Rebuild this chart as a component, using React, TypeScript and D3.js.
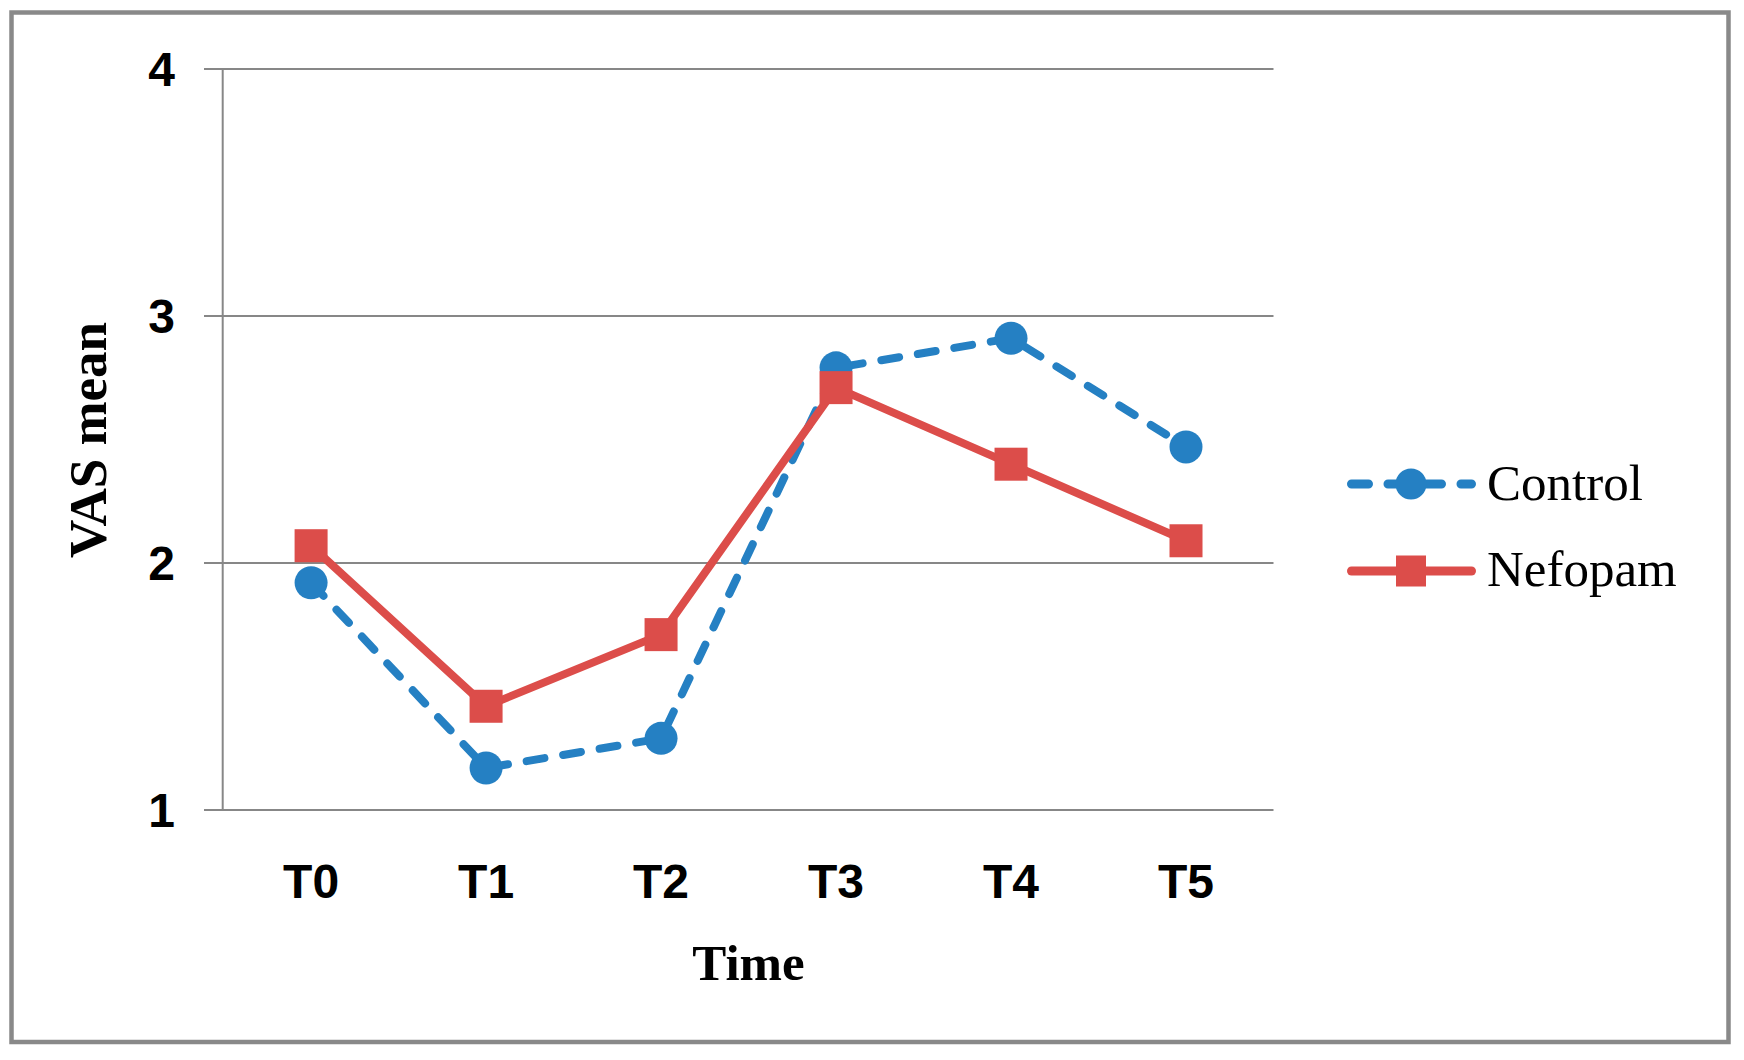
import React from "react";
import * as d3 from "d3";

const categories = ["T0", "T1", "T2", "T3", "T4", "T5"];
const controlValues = [1.92, 1.17, 1.29, 2.79, 2.91, 2.47];
const nefopamValues = [2.07, 1.42, 1.71, 2.71, 2.4, 2.09];
const yTicks = [1, 2, 3, 4];
const seriesNames = ["Control", "Nefopam"];

const W = 1744;
const H = 1060;
const BLUE = "#2580c3";
const RED = "#dc4d4a";
const GRID = "#878787";

export default function App() {
  const x = d3.scaleBand<string>().domain(categories).range([223.6, 1273.5]).padding(0);
  const y = d3.scaleLinear().domain([1, 4]).range([810, 69]);
  const cx = (c: string) => (x(c) as number) + x.bandwidth() / 2;

  const line = d3
    .line<number>()
    .x((_, i) => cx(categories[i]))
    .y((d) => y(d));

  const sq = 33;
  const r = 16.5;

  return (
    <svg
      width={W}
      height={H}
      style={{ position: "absolute", left: 0, top: 0, background: "#fff" }}
    >
      <rect x={0} y={0} width={W} height={H} fill="#fff" />
      <rect x={11.5} y={12.5} width={1717} height={1029.5} fill="none" stroke="#898989" strokeWidth={4.5} />

      {yTicks.map((t) => (
        <line key={t} x1={204} x2={1273.5} y1={y(t)} y2={y(t)} stroke={GRID} strokeWidth={2} />
      ))}
      <line x1={222.7} x2={222.7} y1={y(4)} y2={y(1)} stroke={GRID} strokeWidth={2} />

      {yTicks.map((t) => (
        <text
          key={"yl" + t}
          x={175}
          y={y(t)}
          dy="0.35em"
          textAnchor="end"
          fontFamily="'Liberation Sans', Arial, sans-serif"
          fontWeight="bold"
          fontSize={48}
          fill="#000"
        >
          {t}
        </text>
      ))}

      {categories.map((c) => (
        <text
          key={"xl" + c}
          x={cx(c)}
          y={898}
          textAnchor="middle"
          fontFamily="'Liberation Sans', Arial, sans-serif"
          fontWeight="bold"
          fontSize={48}
          fill="#000"
        >
          {c}
        </text>
      ))}

      <text
        x={748.5}
        y={980}
        textAnchor="middle"
        fontFamily="'Liberation Serif', 'Times New Roman', serif"
        fontWeight="bold"
        fontSize={51}
        fill="#000"
      >
        Time
      </text>
      <text
        transform={`translate(106, 440) rotate(-90)`}
        textAnchor="middle"
        fontFamily="'Liberation Serif', 'Times New Roman', serif"
        fontWeight="bold"
        fontSize={53}
        fill="#000"
      >
        VAS mean
      </text>

      <path
        d={line(controlValues) || ""}
        fill="none"
        stroke={BLUE}
        strokeWidth={8}
        strokeDasharray="18 19"
        strokeLinecap="round"
        strokeLinejoin="round"
      />
      {controlValues.map((v, i) => (
        <circle key={"c" + i} cx={cx(categories[i])} cy={y(v)} r={r} fill={BLUE} />
      ))}

      <path d={line(nefopamValues) || ""} fill="none" stroke={RED} strokeWidth={8} strokeLinejoin="round" />
      {nefopamValues.map((v, i) => (
        <rect
          key={"n" + i}
          x={cx(categories[i]) - sq / 2}
          y={y(v) - sq / 2}
          width={sq}
          height={sq}
          fill={RED}
        />
      ))}

      <g>
        <line
          x1={1351.5}
          x2={1471.5}
          y1={484}
          y2={484}
          stroke={BLUE}
          strokeWidth={9}
          strokeDasharray="17 19.5"
          strokeLinecap="round"
        />
        <circle cx={1411} cy={484} r={15.5} fill={BLUE} />
        <text
          x={1487}
          y={500}
          fontFamily="'Liberation Serif', 'Times New Roman', serif"
          fontSize={51}
          fill="#000"
        >
          {seriesNames[0]}
        </text>
        <line x1={1351.5} x2={1471.5} y1={571} y2={571} stroke={RED} strokeWidth={9} strokeLinecap="round" />
        <rect x={1411 - 15} y={571 - 15.5} width={30} height={31} fill={RED} />
        <text
          x={1487}
          y={586}
          fontFamily="'Liberation Serif', 'Times New Roman', serif"
          fontSize={51}
          fill="#000"
        >
          {seriesNames[1]}
        </text>
      </g>
    </svg>
  );
}
